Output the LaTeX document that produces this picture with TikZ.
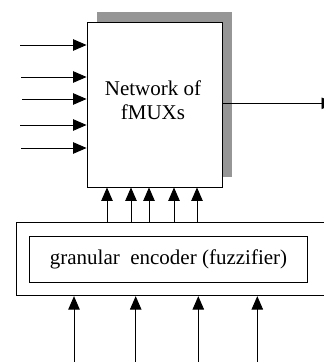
\documentclass[tikz,border=0pt]{standalone}
\usepackage{fontspec}
\setmainfont{Liberation Serif}
\usetikzlibrary{arrows.meta, positioning, shadows}

\begin{document}
\begin{tikzpicture}[
  x=1pt, y=-1pt,
  block/.style={draw, line width=0.9pt, fill=white, inner sep=0pt},
  arr/.style={-{Triangle[length=13.5pt,width=11.5pt]}, line width=0.9pt},
  lbl/.style={font=\fontsize{21}{24}\selectfont, align=center, inner sep=0pt}
]
\useasboundingbox (0,0) rectangle (324,362);
\clip (0,0) rectangle (324,362);

% fMUX network with its grey shadow
\node[block, minimum width=135pt, minimum height=165pt,
  drop shadow={shadow xshift=10pt, shadow yshift=10.5pt, fill=black!41, opacity=1}]
  (net) at (154.5,104.5) {};
\node[lbl] (nettxt) at (153,100) {Network of\\fMUXs};

% fuzzifier: outer frame and inner box
\node[block, minimum width=313pt, minimum height=73pt] (enc) at (173.3,259.2) {};
\node[block, lbl, minimum width=278.4pt, minimum height=46.3pt] (fuzz) at (168.5,259.2)
  {granular\ \ encoder (fuzzifier)};

% inputs to the network
\foreach \i/\x/\y in {1/20/45, 2/21/77, 3/22/99, 4/20/125, 5/21/148}{
  \coordinate (x\i) at (\x,\y);
  \draw[arr] (x\i) -- (x\i -| net.west);
}

% output
\coordinate (out) at (335,103.3);
\draw[arr] (out -| net.east) -- (out);

% encoder outputs up to the network
\foreach \i/\x in {1/107, 2/131, 3/149, 4/174, 5/197}{
  \coordinate (g\i) at (\x,0);
  \draw[arr] (g\i |- enc.north) -- (g\i |- net.south);
}

% raw inputs into the encoder
\foreach \i/\x in {1/74, 2/135.7, 3/198.3, 4/257.3}{
  \coordinate (u\i) at (\x,364);
  \draw[arr] (u\i) -- (u\i |- enc.south);
}

\end{tikzpicture}
\end{document}
